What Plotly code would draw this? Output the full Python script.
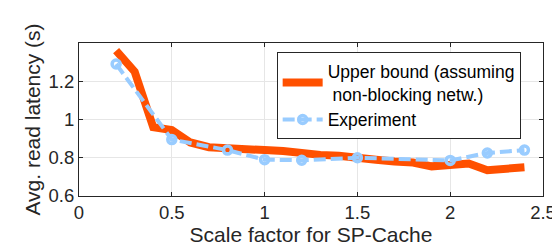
import plotly.graph_objects as go

ub_x = [0.2, 0.3, 0.4, 0.5, 0.6, 0.7, 0.8, 0.9, 1.0, 1.1, 1.2, 1.3, 1.4, 1.5, 1.6, 1.7, 1.8, 1.9, 2.0, 2.1, 2.2, 2.3, 2.4]
ub_y = [1.36, 1.25, 0.96, 0.945, 0.88, 0.855, 0.85, 0.84, 0.84, 0.835, 0.82, 0.815, 0.81, 0.795, 0.79, 0.78, 0.775, 0.755, 0.76, 0.77, 0.735, 0.745, 0.75]
exp_x = [0.2, 0.5, 0.8, 1.0, 1.2, 1.5, 2.0, 2.2, 2.4]
exp_y = [1.29, 0.895, 0.84, 0.79, 0.787, 0.80, 0.786, 0.825, 0.84]
x_ticks = [0, 0.5, 1, 1.5, 2, 2.5]
x_tick_text = ["0", "0.5", "1", "1.5", "2", "2.5"]
y_ticks = [0.6, 0.8, 1.0, 1.2]
y_tick_text = ["0.6", "0.8", "1", "1.2"]

fig = go.Figure()
fig.add_trace(go.Scatter(x=ub_x, y=ub_y, mode="lines",
                         name="Upper bound (assuming<br> non-blocking netw.)",
                         line=dict(color="#FF5000", width=8)))
fig.add_trace(go.Scatter(x=exp_x, y=exp_y, mode="lines+markers", name="Experiment",
                         line=dict(color="#99CCFF", width=4, dash="12px,5px"),
                         marker=dict(symbol="circle-open", size=8, color="#99CCFF",
                                     line=dict(width=3.5, color="#99CCFF"))))

font_family = "Liberation Sans, Arial, sans-serif"
fig.update_layout(
    width=560, height=246,
    margin=dict(l=71, r=15, t=35, b=58),
    paper_bgcolor="white", plot_bgcolor="white",
    font=dict(family=font_family, size=18.5, color="#262626"),
    legend=dict(x=0.426, y=0.94, xanchor="left", yanchor="top",
                bordercolor="#262626", borderwidth=1, bgcolor="white",
                font=dict(size=17.5, color="black"), tracegroupgap=0,
                itemwidth=40),
    xaxis=dict(range=[0, 2.5], tickvals=x_ticks, ticktext=x_tick_text,
               showgrid=True, gridcolor="#E6E6E6", gridwidth=1,
               showline=True, linecolor="#262626", linewidth=1, mirror="ticks",
               ticks="inside", ticklen=4, tickcolor="#262626", zeroline=False,
               title=dict(text="Scale factor for SP-Cache", font=dict(size=21), standoff=1)),
    yaxis=dict(range=[0.6, 1.4], tickvals=y_ticks, ticktext=y_tick_text,
               showgrid=True, gridcolor="#E6E6E6", gridwidth=1,
               showline=True, linecolor="#262626", linewidth=1, mirror="ticks",
               ticks="inside", ticklen=4, tickcolor="#262626", zeroline=False,
               title=dict(text="Avg. read latency (s)", font=dict(size=21), standoff=2)),
)
fig.write_html("out.html")
